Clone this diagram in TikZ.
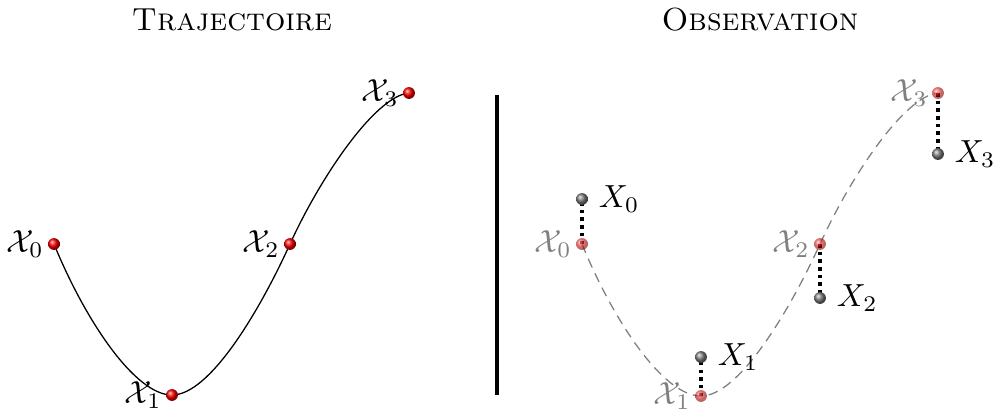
\documentclass[tikz,border=0pt]{standalone}
\begin{document}
\begin{tikzpicture}[x=0.011cm,y=-0.011cm,
  state/.style={circle,inner sep=0pt,minimum size=0.13cm,ball color=red},
  fstate/.style={circle,inner sep=0pt,minimum size=0.13cm,ball color=red,opacity=0.6},
  obs/.style={circle,inner sep=0pt,minimum size=0.13cm,ball color=gray},
  lab/.style={inner sep=1pt},
  obsline/.style={line width=1.1pt,dash pattern=on 1.1pt off 1.3pt},
  title/.style={font=\scshape}]
\useasboundingbox (0,0) rectangle (995,414);
% titles
\node[title] (t1) at (232,20) {Trajectoire};
\node[title] (t2) at (760,20) {Observation};
% left
\begin{scope}
\coordinate (a0) at (54,244);
\coordinate (a1) at (172,395);
\coordinate (a2) at (290,244);
\coordinate (a3) at (409,93);
\draw[thin] (a0) .. controls (85,320) and (135,395) .. (a1)
  .. controls (210,395) and (260,310) .. (a2)
  .. controls (320,178) and (375,96) .. (a3);
\end{scope}
\foreach \i in {0,...,3}{
  \node[state] (s\i) at (a\i) {};
  \node[lab,anchor=east] (ls\i) at ([xshift=0pt]s\i.west) {$\mathcal{X}_\i$};
}
% separator
\coordinate (v1) at (497,95);
\coordinate (v2) at (497,395);
\draw[line width=1pt] (v1) -- (v2);
% right
\begin{scope}[shift={(528,0)}]
\coordinate (b0) at (54,244);
\coordinate (b1) at (173,396);
\coordinate (b2) at (292,244);
\coordinate (b3) at (410,93);
\draw[gray,dash pattern=on 3pt off 2pt] (b0) .. controls (85,320) and (135,396) .. (b1)
  .. controls (211,396) and (262,310) .. (b2)
  .. controls (322,178) and (376,96) .. (b3);
\coordinate (c0) at (54,199);
\coordinate (c1) at (173,357);
\coordinate (c2) at (292,298);
\coordinate (c3) at (410,154);
\end{scope}
\foreach \i in {0,...,3}{
  \draw[obsline] (b\i) -- (c\i);
  \node[fstate] (f\i) at (b\i) {};
  \node[lab,anchor=east,text=gray] (lf\i) at ([xshift=0pt]f\i.west) {$\mathcal{X}_\i$};
  \node[obs] (o\i) at (c\i) {};
  \node[lab,anchor=west] (lo\i) at ([xshift=2pt]o\i.east) {$X_\i$};
}
\end{tikzpicture}
\end{document}
